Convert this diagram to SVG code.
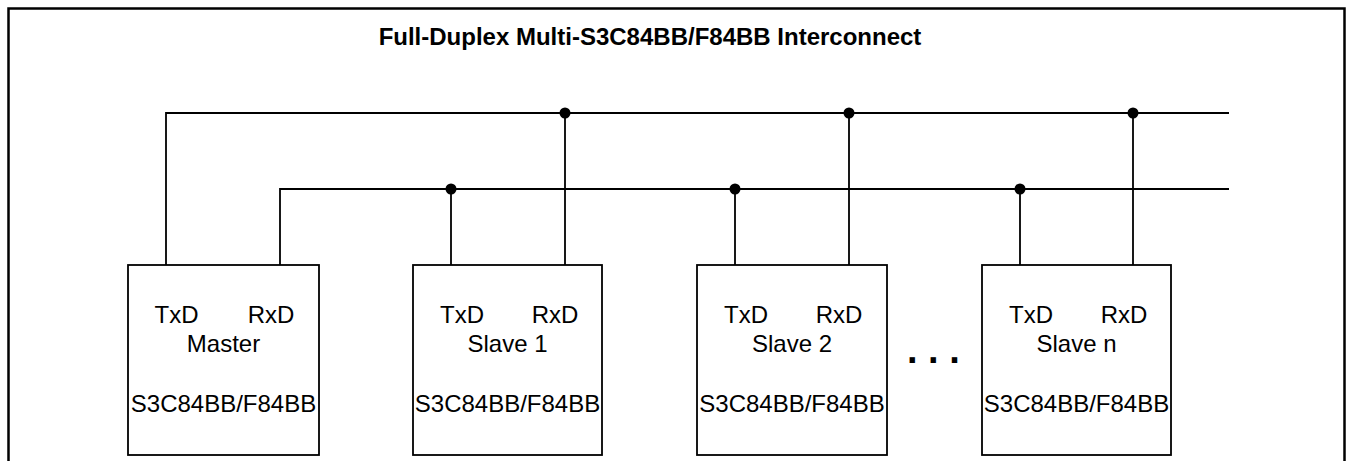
<svg xmlns="http://www.w3.org/2000/svg" width="1346" height="461" viewBox="0 0 1346 461">
<style>
.frame{fill:none;stroke:#000;stroke-width:2.5}
.box{fill:#fff;stroke:#000;stroke-width:1.8}
.wire{fill:none;stroke:#000;stroke-width:1.8}
.dot{fill:#000}
text{font-family:"Liberation Sans",Arial,sans-serif;fill:#000}
.t{font-size:24px;text-anchor:middle}
.title{font-size:24px;font-weight:bold;text-anchor:middle}
.ell{font-size:38px;font-weight:bold}
</style>
<rect class="frame" x="8.5" y="8.5" width="1336" height="470"/>
<text class="title" x="650" y="45">Full-Duplex Multi-S3C84BB/F84BB Interconnect</text>
<g id="connectors">
<path class="wire" d="M166,265 V113 H1229"/>
<path class="wire" d="M280,265 V189 H1229"/>
<path class="wire" d="M451,189 V265 M565,113 V265"/>
<path class="wire" d="M735,189 V265 M849,113 V265"/>
<path class="wire" d="M1020,189 V265 M1133,113 V265"/>
<circle class="dot" cx="565" cy="113" r="5.5"/>
<circle class="dot" cx="849" cy="113" r="5.5"/>
<circle class="dot" cx="1133" cy="113" r="5.5"/>
<circle class="dot" cx="451" cy="189" r="5.5"/>
<circle class="dot" cx="735" cy="189" r="5.5"/>
<circle class="dot" cx="1020" cy="189" r="5.5"/>
</g>
<g id="master">
<rect class="box" x="128" y="265" width="191" height="190"/>
<text class="t" x="176.5" y="323">TxD</text>
<text class="t" x="271" y="323">RxD</text>
<text class="t" x="223.5" y="352">Master</text>
<text class="t" x="223.5" y="412">S3C84BB/F84BB</text>
</g>
<g id="slave1">
<rect class="box" x="413" y="265" width="189" height="190"/>
<text class="t" x="462" y="323">TxD</text>
<text class="t" x="555" y="323">RxD</text>
<text class="t" x="507.5" y="352">Slave 1</text>
<text class="t" x="507.5" y="412">S3C84BB/F84BB</text>
</g>
<g id="slave2">
<rect class="box" x="697" y="265" width="190" height="190"/>
<text class="t" x="746" y="323">TxD</text>
<text class="t" x="839" y="323">RxD</text>
<text class="t" x="792" y="352">Slave 2</text>
<text class="t" x="792" y="412">S3C84BB/F84BB</text>
</g>
<text class="ell" x="907" y="363">. . .</text>
<g id="slaven">
<rect class="box" x="982" y="265" width="189" height="190"/>
<text class="t" x="1031" y="323">TxD</text>
<text class="t" x="1124" y="323">RxD</text>
<text class="t" x="1076.5" y="352">Slave n</text>
<text class="t" x="1076.5" y="412">S3C84BB/F84BB</text>
</g>
</svg>
